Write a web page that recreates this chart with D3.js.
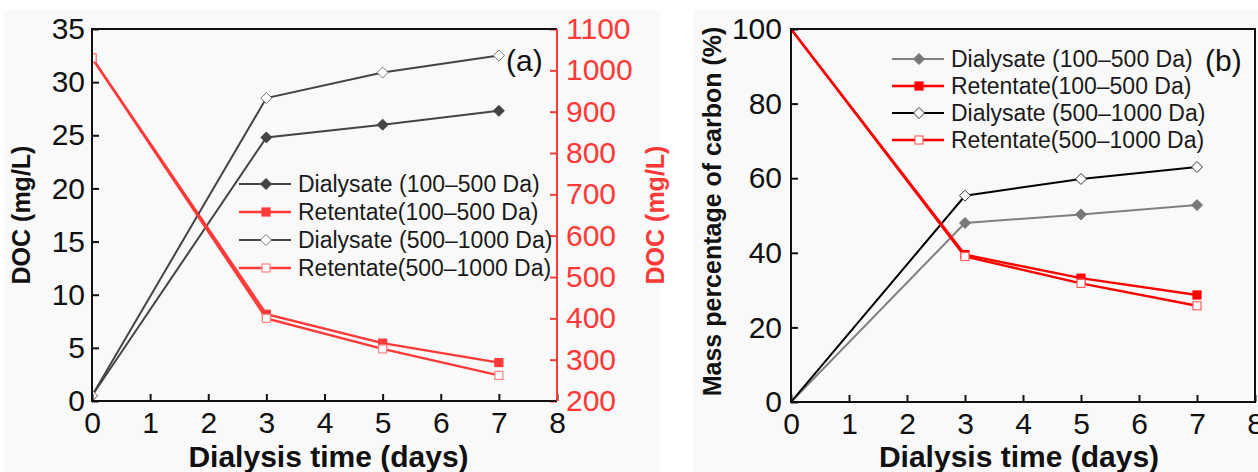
<!DOCTYPE html>
<html>
<head>
    <meta charset="utf-8">
    <style>
        body { margin: 0; background: #fff; }
        svg text { font-family: "Liberation Sans", Arial, sans-serif; }
        .axis-title { font-weight: bold; }
        .legend text { font-size: 23px; fill: #1a1a1a; }
    </style>
    <script src="https://d3js.org/d3.v7.min.js"></script>
    <title>Dialysis DOC</title>
</head>
<body>
<svg id="chart" width="1258" height="472"></svg>
<script>
    // shared x values (days)
    var days = [0, 3, 5, 7];
    var xTicks = [0, 1, 2, 3, 4, 5, 6, 7, 8];

    var seriesNames = [
        "Dialysate (100\u2013500 Da)",
        "Retentate(100\u2013500 Da)",
        "Dialysate (500\u20131000 Da)",
        "Retentate(500\u20131000 Da)"
    ];

    // panel (a): DOC, dialysate on left axis (mg/L), retentate on right axis (mg/L)
    var docDialysateSmall = [0.5, 24.8, 26.0, 27.3];
    var docRetentateSmall = [1030, 410, 340, 293];
    var docDialysateLarge = [0.5, 28.5, 30.9, 32.5];
    var docRetentateLarge = [1030, 400, 326, 262];
    var docLeftTicks = [0, 5, 10, 15, 20, 25, 30, 35];
    var docRightTicks = [200, 300, 400, 500, 600, 700, 800, 900, 1000, 1100];

    // panel (b): mass percentage of carbon
    var pctDialysateSmall = [0, 48.0, 50.3, 52.8];
    var pctRetentateSmall = [100, 39.5, 33.2, 28.7];
    var pctDialysateLarge = [0, 55.3, 59.8, 63.0];
    var pctRetentateLarge = [100, 39.0, 31.8, 25.8];
    var pctTicks = [0, 20, 40, 60, 80, 100];

    var svg = d3.select("svg#chart");

    // light panel backgrounds
    svg.append("rect").attr("x", 4).attr("y", 10).attr("width", 656).attr("height", 462).attr("fill", "#f9f9f9");
    svg.append("rect").attr("x", 693).attr("y", 10).attr("width", 565).attr("height", 462).attr("fill", "#f9f9f9");

    function drawMarker(g, shape, x, y, fill, stroke) {
        if (shape === "diamond") {
            g.append("path")
                .attr("d", "M" + x + "," + (y - 5.5) + "L" + (x + 5.5) + "," + y + "L" + x + "," + (y + 5.5) + "L" + (x - 5.5) + "," + y + "Z")
                .attr("fill", fill).attr("stroke", stroke).attr("stroke-width", 1);
        } else {
            g.append("rect")
                .attr("x", x - 4).attr("y", y - 4).attr("width", 8).attr("height", 8)
                .attr("fill", fill).attr("stroke", stroke).attr("stroke-width", 1.2);
        }
    }

    function drawSeries(g, x, y, values, style, skipFirstMarker) {
        var pts = days.map(function (d, i) { return [x(d), y(values[i])]; });
        g.append("path")
            .attr("d", d3.line()(pts))
            .attr("fill", "none")
            .attr("stroke", style.line)
            .attr("stroke-width", style.width);
        pts.forEach(function (p, i) {
            if (skipFirstMarker && i === 0) return;
            drawMarker(g, style.shape, p[0], p[1], style.fill, style.stroke);
        });
    }

    function drawLegend(g, x0, y0, dy, styles) {
        var lg = g.append("g").attr("class", "legend");
        styles.forEach(function (s, i) {
            var yy = y0 + i * dy;
            lg.append("line").attr("x1", x0).attr("x2", x0 + 52).attr("y1", yy).attr("y2", yy)
                .attr("stroke", s.line).attr("stroke-width", s.width);
            drawMarker(lg, s.shape, x0 + 27, yy, s.fill, s.stroke);
            lg.append("text").attr("x", x0 + 59).attr("y", yy).attr("dy", "0.36em").text(seriesNames[i]);
        });
    }

    function styleAxis(sel, color) {
        sel.select(".domain").remove();
        sel.selectAll(".tick line").attr("stroke", color).attr("stroke-width", 2);
        sel.selectAll(".tick text").attr("fill", color).attr("font-size", "30px");
    }

    function createDocChart() {
        var left = 92, right = 557, top = 29, bottom = 401;
        var x = d3.scaleLinear().domain([0, 8]).range([left, right]);
        var y = d3.scaleLinear().domain([0, 35]).range([bottom, top]);
        var y2 = d3.scaleLinear().domain([200, 1100]).range([bottom, top]);
        var red = "#ff3838";

        svg.append("clipPath").attr("id", "clipA").append("rect")
            .attr("x", left).attr("y", top).attr("width", right - left).attr("height", bottom - top);

        var data = svg.append("g").attr("clip-path", "url(#clipA)");
        var styles = [
            { line: "#444", width: 2, shape: "diamond", fill: "#444", stroke: "#444" },
            { line: red, width: 2.4, shape: "square", fill: red, stroke: red },
            { line: "#444", width: 2, shape: "diamond", fill: "#fff", stroke: "#777" },
            { line: red, width: 2.4, shape: "square", fill: "#fff", stroke: "#ff8080" }
        ];
        drawSeries(data, x, y, docDialysateSmall, styles[0]);
        drawSeries(data, x, y2, docRetentateSmall, styles[1]);
        drawSeries(data, x, y, docDialysateLarge, styles[2]);
        drawSeries(data, x, y2, docRetentateLarge, styles[3]);

        svg.append("g").attr("transform", "translate(0," + bottom + ")")
            .call(d3.axisBottom(x).tickValues(xTicks).tickSizeInner(-7).tickSizeOuter(0).tickPadding(11))
            .call(styleAxis, "#111");
        svg.append("g").attr("transform", "translate(" + left + ",0)")
            .call(d3.axisLeft(y).tickValues(docLeftTicks).tickSizeInner(-7).tickSizeOuter(0).tickPadding(7))
            .call(styleAxis, "#111");
        svg.append("g").attr("transform", "translate(" + right + ",0)")
            .call(d3.axisRight(y2).tickValues(docRightTicks).tickFormat(d3.format("d"))
                .tickSizeInner(-7).tickSizeOuter(0).tickPadding(9))
            .call(styleAxis, red);

        // frame
        svg.append("path").attr("d", "M" + right + "," + top + "H" + left + "V" + bottom + "H" + right)
            .attr("fill", "none").attr("stroke", "#111").attr("stroke-width", 2);
        svg.append("line").attr("x1", right).attr("x2", right).attr("y1", top).attr("y2", bottom)
            .attr("stroke", red).attr("stroke-width", 2);

        drawLegend(svg, 239, 184, 28, styles);

        svg.append("text").attr("x", 506).attr("y", 71).attr("font-size", "30px").attr("fill", "#111").text("(a)");

        svg.append("text").attr("class", "axis-title")
            .attr("x", (left + right) / 2 + 4).attr("y", 467).attr("text-anchor", "middle")
            .attr("font-size", "30px").attr("fill", "#111").text("Dialysis time (days)");
        svg.append("text").attr("class", "axis-title")
            .attr("transform", "translate(30," + ((top + bottom) / 2) + ") rotate(-90)")
            .attr("text-anchor", "middle").attr("font-size", "25px").attr("fill", "#111").text("DOC (mg/L)");
        svg.append("text").attr("class", "axis-title")
            .attr("transform", "translate(664," + ((top + bottom) / 2) + ") rotate(-90)")
            .attr("text-anchor", "middle").attr("font-size", "25px").attr("fill", red).text("DOC (mg/L)");
    }

    function createPctChart() {
        var left = 791, right = 1255, top = 29, bottom = 402;
        var x = d3.scaleLinear().domain([0, 8]).range([left, right]);
        var y = d3.scaleLinear().domain([0, 100]).range([bottom, top]);

        svg.append("clipPath").attr("id", "clipB").append("rect")
            .attr("x", left).attr("y", top).attr("width", right - left).attr("height", bottom - top);

        var data = svg.append("g").attr("clip-path", "url(#clipB)");
        var styles = [
            { line: "#808080", width: 2, shape: "diamond", fill: "#777", stroke: "#777" },
            { line: "#ff0000", width: 2.4, shape: "square", fill: "#ff0000", stroke: "#ff0000" },
            { line: "#000", width: 2, shape: "diamond", fill: "#fff", stroke: "#333" },
            { line: "#ff0000", width: 2.4, shape: "square", fill: "#fff", stroke: "#ff6060" }
        ];
        drawSeries(data, x, y, pctDialysateSmall, styles[0], true);
        drawSeries(data, x, y, pctDialysateLarge, styles[2], true);
        drawSeries(data, x, y, pctRetentateSmall, styles[1], true);
        drawSeries(data, x, y, pctRetentateLarge, styles[3], true);

        svg.append("g").attr("transform", "translate(0," + bottom + ")")
            .call(d3.axisBottom(x).tickValues(xTicks).tickSizeInner(-7).tickSizeOuter(0).tickPadding(11))
            .call(styleAxis, "#111");
        svg.append("g").attr("transform", "translate(" + left + ",0)")
            .call(d3.axisLeft(y).tickValues(pctTicks).tickSizeInner(-7).tickSizeOuter(0).tickPadding(9))
            .call(styleAxis, "#111");

        svg.append("rect").attr("x", left).attr("y", top).attr("width", right - left).attr("height", bottom - top)
            .attr("fill", "none").attr("stroke", "#111").attr("stroke-width", 2);

        drawLegend(svg, 892, 59, 27, styles);

        svg.append("text").attr("x", 1205).attr("y", 71).attr("font-size", "30px").attr("fill", "#111").text("(b)");

        svg.append("text").attr("class", "axis-title")
            .attr("x", (left + right) / 2 - 4).attr("y", 467).attr("text-anchor", "middle")
            .attr("font-size", "30px").attr("fill", "#111").text("Dialysis time (days)");
        svg.append("text").attr("class", "axis-title")
            .attr("transform", "translate(721," + ((top + bottom) / 2 - 4) + ") rotate(-90)")
            .attr("text-anchor", "middle").attr("font-size", "25px").attr("fill", "#111").text("Mass percentage of carbon (%)");
    }

    createDocChart();
    createPctChart();
</script>
</body>
</html>
